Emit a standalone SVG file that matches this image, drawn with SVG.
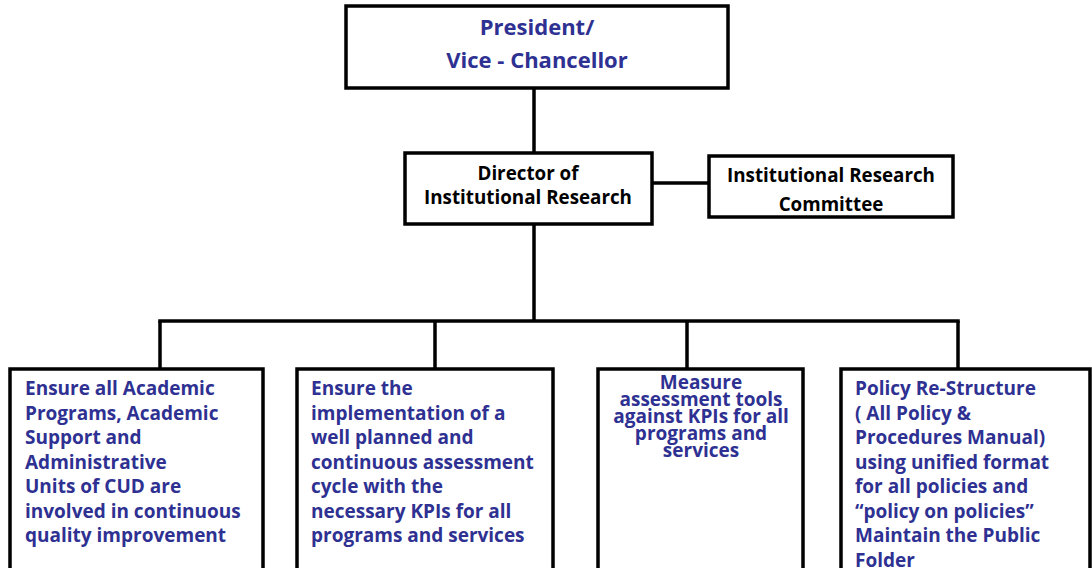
<svg xmlns="http://www.w3.org/2000/svg" width="1092" height="568" viewBox="0 0 1092 568">
<style>
rect{fill:#fff;stroke:#000;stroke-width:3.5}
.c line{stroke:#000;stroke-width:3.5}
text{font-family:"Open Sans",Lato,"Liberation Sans",sans-serif;font-weight:bold}
.b{fill:#2e3192;font-size:19px}
.k{fill:#000;font-size:18.8px}
.m{text-anchor:middle}
</style>
<rect x="0" y="0" width="1092" height="568" style="stroke:none"/>
<g class="c" id="connectors">
<line x1="534" y1="88" x2="534" y2="153"/>
<line x1="652" y1="183" x2="709" y2="183"/>
<line x1="534" y1="224" x2="534" y2="321"/>
<line x1="158.25" y1="321" x2="959.75" y2="321"/>
<line x1="160" y1="321" x2="160" y2="369"/>
<line x1="435" y1="321" x2="435" y2="369"/>
<line x1="687" y1="321" x2="687" y2="369"/>
<line x1="958" y1="321" x2="958" y2="369"/>
</g>
<g id="president">
<rect x="346" y="6" width="382" height="82"/>
<text class="b m" x="537" y="35" style="font-size:22px">President/</text>
<text class="b m" x="537" y="68" style="font-size:22px">Vice - Chancellor</text>
</g>
<g id="director">
<rect x="405" y="153" width="247" height="71"/>
<text class="k m" x="528" y="180">Director of</text>
<text class="k m" x="528" y="204">Institutional Research</text>
</g>
<g id="committee">
<rect x="709" y="156" width="244" height="61"/>
<text class="k m" x="831" y="182">Institutional Research</text>
<text class="k m" x="831" y="211">Committee</text>
</g>
<g id="box1">
<rect x="10" y="369" width="253" height="210"/>
<text class="b" x="25"><tspan x="25" y="395">Ensure all Academic</tspan><tspan x="25" y="419.5">Programs, Academic</tspan><tspan x="25" y="444">Support and</tspan><tspan x="25" y="468.5">Administrative</tspan><tspan x="25" y="493">Units of CUD are</tspan><tspan x="25" y="517.5">involved in continuous</tspan><tspan x="25" y="542">quality improvement</tspan></text>
</g>
<g id="box2">
<rect x="297" y="369" width="256" height="210"/>
<text class="b" x="311"><tspan x="311" y="395">Ensure the</tspan><tspan x="311" y="419.5">implementation of a</tspan><tspan x="311" y="444">well planned and</tspan><tspan x="311" y="468.5">continuous assessment</tspan><tspan x="311" y="493">cycle with the</tspan><tspan x="311" y="517.5">necessary KPIs for all</tspan><tspan x="311" y="542">programs and services</tspan></text>
</g>
<g id="box3">
<rect x="598" y="369" width="205" height="210"/>
<text class="b m" x="701"><tspan x="701" y="389">Measure</tspan><tspan x="701" y="406">assessment tools</tspan><tspan x="701" y="423">against KPIs for all</tspan><tspan x="701" y="440">programs and</tspan><tspan x="701" y="457">services</tspan></text>
</g>
<g id="box4">
<rect x="841" y="369" width="249" height="210"/>
<text class="b" x="855"><tspan x="855" y="395">Policy Re-Structure</tspan><tspan x="855" y="419.5">( All Policy &amp;</tspan><tspan x="855" y="444">Procedures Manual)</tspan><tspan x="855" y="468.5">using unified format</tspan><tspan x="855" y="493">for all policies and</tspan><tspan x="855" y="517.5">“policy on policies”</tspan><tspan x="855" y="542">Maintain the Public</tspan><tspan x="855" y="566.5">Folder</tspan></text>
</g>
</svg>
